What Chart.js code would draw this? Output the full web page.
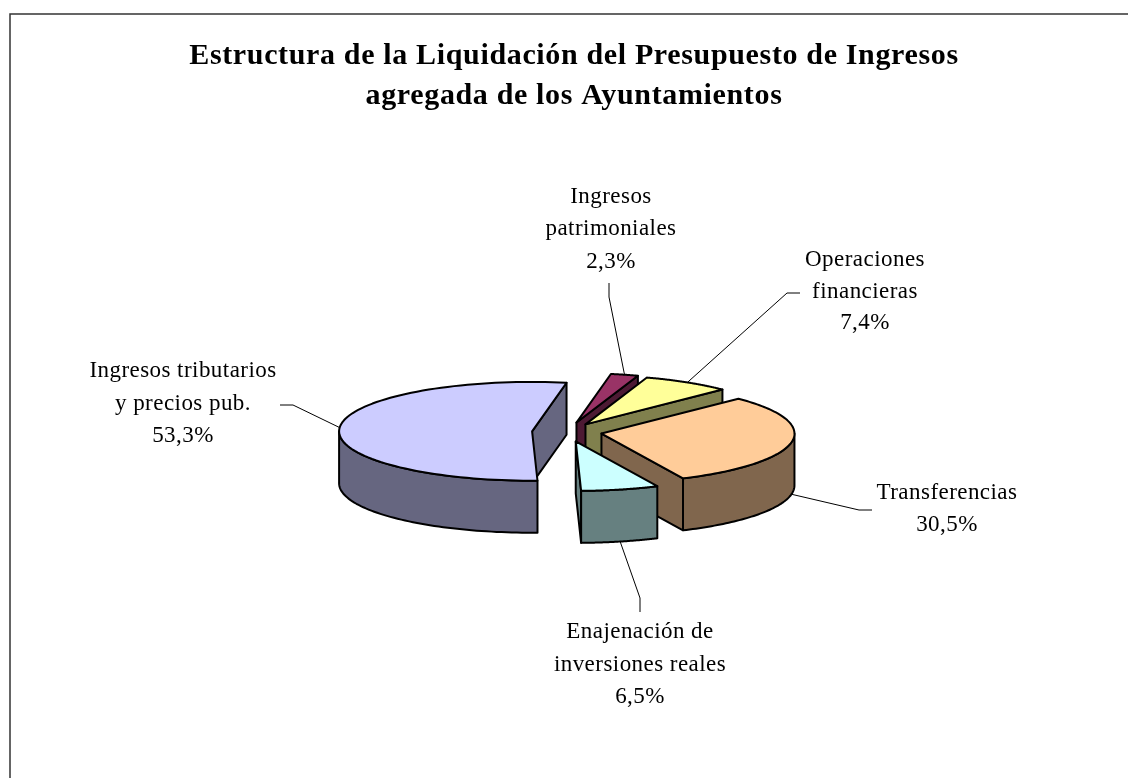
<!DOCTYPE html>
<html><head><meta charset="utf-8">
<style>html,body{margin:0;padding:0;background:#fff}canvas{display:block}</style>
<script src="https://cdn.jsdelivr.net/npm/chart.js@4"></script>
</head><body>
<canvas id="c" width="1128" height="778"></canvas>
<script>
const titleLines = ['Estructura de la Liquidación del Presupuesto de Ingresos','agregada de los Ayuntamientos'];
const categories = ['Ingresos tributarios y precios pub.','Ingresos patrimoniales','Operaciones financieras','Transferencias','Enajenación de inversiones reales'];
const categoryLines = [['Ingresos tributarios','y precios pub.'],['Ingresos','patrimoniales'],['Operaciones','financieras'],['Transferencias'],['Enajenación de','inversiones reales']];
const values = [53.3,2.3,7.4,30.5,6.5];
const topColors = ['#CCCCFF','#993366','#FFFF99','#FFCC99','#CCFFFF'];
const wallColors = ['#666680','#4D1A33','#80804D','#80664D','#668080'];

const PIE = {cx:567, cy:432, radius:193, squash:0.256, depth:52, rotation:178.4};
const explode = [35,38,35,35,38];
const labelLayout = [
  {x:183, y:[371,404,436], leader:[[280,405],[293,405]]},
  {x:611, y:[197,229,262], leader:[[609,283],[609,297]]},
  {x:865, y:[260,292,323], leader:[[800,293],[787,293]]},
  {x:947, y:[493,525],     leader:[[872,510],[859,510]]},
  {x:640, y:[632,665,697], leader:[[640,612],[640,598]]}
];

const pie3d = {
  id:'pie3d',
  beforeDraw(chart){ chart.ctx.letterSpacing = '0.65px'; },
  afterDraw(chart){ chart.ctx.letterSpacing = '0px'; },
  beforeDatasetDraw(chart,args){
    const ctx = chart.ctx, arcs = args.meta.data, k = PIE.squash, D = PIE.depth;
    const info = arcs.map((a,i)=>{
      const p = a.getProps(['x','y','startAngle','endAngle','outerRadius'],true);
      const mid = (p.startAngle+p.endAngle)/2;
      const ax = PIE.cx+explode[i]*Math.cos(mid), ay = PIE.cy+k*explode[i]*Math.sin(mid);
      return {a,i,p,mid,ax,ay,pt:(t,d=0)=>[ax+p.outerRadius*Math.cos(t), ay+k*p.outerRadius*Math.sin(t)+d]};
    });
    const poly = (pts,fill)=>{
      ctx.beginPath(); pts.forEach((q,j)=> j?ctx.lineTo(q[0],q[1]):ctx.moveTo(q[0],q[1])); ctx.closePath();
      ctx.fillStyle=fill; ctx.fill(); ctx.stroke();
    };
    ctx.save();
    ctx.lineWidth=2; ctx.strokeStyle='#000'; ctx.lineJoin='round';
    info.slice().sort((u,v)=>Math.sin(u.mid)-Math.sin(v.mid)).forEach(s=>{
      const {p,ax,ay,pt,i}=s, wall=wallColors[i];
      [[p.startAngle,-Math.cos(p.startAngle)],[p.endAngle,Math.cos(p.endAngle)]].forEach(([t,f])=>{
        if(f>0) poly([[ax,ay],pt(t),pt(t,D),[ax,ay+D]],wall);
      });
      for(let n=-2;n<3;n++){
        const lo=Math.max(p.startAngle,2*Math.PI*n), hi=Math.min(p.endAngle,2*Math.PI*n+Math.PI);
        if(hi>lo){
          const up=[],dn=[];
          for(let j=0;j<=60;j++){const t=lo+(hi-lo)*j/60; up.push(pt(t)); dn.unshift(pt(t,D));}
          poly(up.concat(dn),wall);
        }
      }
      ctx.save(); ctx.translate(ax,ay); ctx.scale(1,k); ctx.translate(-p.x,-p.y);
      s.a.draw(ctx);
      ctx.restore();
      ctx.beginPath(); ctx.moveTo(ax,ay);
      for(let j=0;j<=90;j++){const q=pt(p.startAngle+(p.endAngle-p.startAngle)*j/90); ctx.lineTo(q[0],q[1]);}
      ctx.closePath(); ctx.stroke();
    });
    ctx.restore();
    chart.$pieInfo = info;
    return false;
  },
  afterDatasetsDraw(chart){
    const ctx = chart.ctx, info = chart.$pieInfo; if(!info) return;
    ctx.save();
    ctx.strokeStyle='#000'; ctx.lineWidth=1;
    info.forEach(s=>{
      const L=labelLayout[s.i], end=s.pt(s.mid, Math.sin(s.mid)>0.1?PIE.depth:0);
      ctx.beginPath(); ctx.moveTo(L.leader[0][0],L.leader[0][1]); ctx.lineTo(L.leader[1][0],L.leader[1][1]); ctx.lineTo(end[0],end[1]); ctx.stroke();
    });
    ctx.fillStyle='#000'; ctx.textAlign='center'; ctx.textBaseline='middle';
    ctx.letterSpacing='0.45px';
    ctx.font='23px "Liberation Serif"';
    info.forEach(s=>{
      const L=labelLayout[s.i];
      const lines=categoryLines[s.i].concat([values[s.i].toFixed(1).replace('.',',')+'%']);
      lines.forEach((t,j)=>ctx.fillText(t,L.x,L.y[j]));
    });
    // frame: only its top and left edges fall inside the picture
    ctx.strokeStyle='#333'; ctx.lineWidth=1.5;
    ctx.beginPath(); ctx.moveTo(10,778); ctx.lineTo(10,14); ctx.lineTo(1128,14); ctx.stroke();
    ctx.restore();
  }
};

new Chart(document.getElementById('c'),{
  type:'pie',
  data:{labels:categories,datasets:[{data:values,backgroundColor:topColors,borderWidth:0}]},
  options:{
    responsive:false,animation:false,events:[],
    rotation:PIE.rotation,radius:PIE.radius,
    layout:{padding:{left:20}},
    plugins:{
      legend:{display:false},tooltip:{enabled:false},
      title:{display:true,text:titleLines,color:'#000',padding:{top:36,bottom:10},
        font:{family:'"Liberation Serif"',size:30,weight:'bold',lineHeight:1.333}}
    }
  },
  plugins:[pie3d]
});
</script>
</body></html>
